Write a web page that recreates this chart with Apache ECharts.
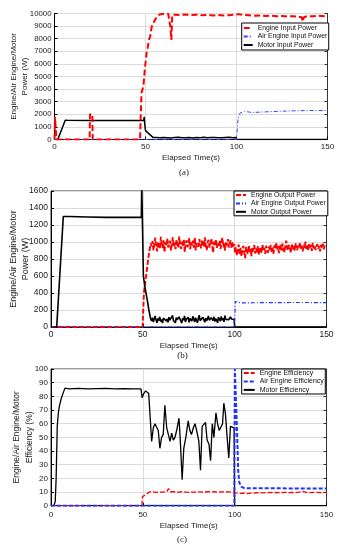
<!DOCTYPE html>
<html><head><meta charset="utf-8">
<script src="https://cdn.jsdelivr.net/npm/echarts@6/dist/echarts.min.js"></script>
<style>html,body{margin:0;padding:0;background:#fff}#c{width:341px;height:550px}</style>
</head><body><div id="c"></div>
<script>
// ---------- (a) input power ----------
const engInT = [0,0.3,0.7,1.0,19.3,19.5,20.8,21.0,47.0,47.3,47.8,48.3,48.8,49.3,49.7,50.2,50.6,51.2,51.9,52.6,53.4,54.0,54.7,55.4,56.2,57.5,59.0,61.0,62.5,63.2,63.7,64.2,64.7,66,69,72,75,78,81,84,87,90,93,96,99,101,104,107,110,113,116,119,122,125,128,131,134,135.8,136.4,137,139,142,145,148,150];
const engInV = [0,1800,1800,0,0,2000,2000,0,0,1500,3700,3600,4200,5000,5700,6300,6900,7300,7900,8200,8950,9000,9350,9500,9750,9900,9960,10000,9980,9950,8900,7900,9900,9900,9870,9920,9880,9900,9860,9890,9850,9880,9840,9870,9900,9950,9880,9860,9830,9850,9800,9820,9780,9800,9760,9790,9750,9700,9350,9700,9800,9780,9820,9790,9800];
const airInT = [0,100,100.4,100.8,101.3,102,103,104.5,106,108,110,114,120,126,132,140,150];
const airInV = [0,0,800,1500,1900,2100,2200,2250,2200,2150,2150,2180,2220,2250,2280,2300,2300];
const motInT = [0,1.8,5.9,7,20,35,49.0,49.3,49.6,50.0,52,54.2,56,58,60,62,64,66,68,70,72,74,76,78,80,82,84,86,88,90,92,94,96,98,99.7,100,150];
const motInV = [0,0,1530,1520,1510,1500,1500,1800,1200,700,450,150,150,130,160,140,120,150,170,130,140,160,120,150,140,170,130,150,160,140,130,150,170,140,160,0,0];

// ---------- (b) output power ----------
const engOutT = [0,49.9,50.2,50.6,51.7,53.0,54.2];
const engOutV = [0,0,200,400,590,810,985];
const engOutNoise1 = [950,1010,900,990,1050,960,890,1000,975,920,1060,980,930,1020,880,995,950,1040,935,985,1015,900,970,1055,945,990,915,1025,980,930,1065,970,920,1005,955,1030,885,985,1020,940,975,1045,915,995,960,1015,935,1050,900,985,1005,945,1035,970,925,1020,990,940,1055,955,905,995,1025,935,975,1040,950,875,1005,965,1030,930,990,955,1015,920,1000,1050,940,980,900,1005,960,1035,935,985,1020,925,995,950,975];
const engOutNoise2 = [870,935,840,915,970,860,930,830,905,955,880,810,940,900,860,960,875,920,835,935,895,965,865,925,880,950,850,940,905,870,970,895,930,860,955,910,875,945,900,965,885,935,860,960,915,995,905,950,870,940,965,900,980,920,880,955,1015,925,900,965,935,875,975,920,955,890,985,930,905,965,940,995,915,955,890,970,930,1005,920,960,900,975,935,965,895,990,925,960,905,950,975,920,955,890,965,930,980,915,955,935,950];
const airOutT = [0,100,100.3,101,103,106,110,120,130,140,150];
const airOutV = [0,0,300,290,285,283,285,287,288,288,287];
const motOutT = [0,3.1,6.7,10,20,30,40,49.2,49.4,49.9,50.3,51.3,52.4,53.3,54.2];
const motOutV = [0,0,1300,1300,1295,1290,1290,1290,1700,1700,600,450,320,200,100];
const motOutNoise = [70,110,60,95,130,80,50,100,75,120,65,90,45,105,85,125,70,95,55,115,80,60,100,135,75,90,50,110,85,65,120,95,70,45,105,80,130,60,90,75,115,55,100,85,70,125,95,60,110,80,50,100,140,75,90,65,115,85,55,105,70,95,130,80,60,110,90,75,120,65,100,85,50,115,95,70,125,80,105,60,135,90,75,110,85,65,120,95,80,100,90];

// ---------- (c) efficiency ----------
const engEffT = [0,49.5,49.8,50.5,51.5,52.5,53.5,54.2];
const engEffV = [0,0,6.6,7.2,8.0,8.8,10.0,10.6];
const engEffNoise1 = [10.3,10.1,9.8,10.2,9.9,10.4,10.0,9.7,10.1,12.5,10.2,9.9,10.3,10.0,9.8,10.1,10.2,9.9,10.0,10.3,9.8,10.1,9.9,10.2,10.0,9.7,10.1,10.3,9.9,10.0,10.2,9.8,10.1,9.9,10.3,10.0,9.8,10.2,10.1,9.9,10.0,10.3,10.1,10.4,10.2];
const engEffNoise2 = [9.4,9.0,9.1,8.9,9.2,9.3,9.5,9.4,9.6,9.5,9.7,9.6,9.5,9.8,9.6,9.7,9.6,9.9,10.4,9.7,9.6,9.8,9.7,9.6,9.7];
const airEffT = [0,99.8,100.1,100.4,100.9,101.4,101.9,102.5,103.5,105,107,110,120,130,140,150];
const airEffV = [0,0,100,100,70,50,26,17,14,13,12.8,12.8,12.8,12.6,12.6,12.5];
const motEffT = [0,1.5,2.3,2.8,3.4,4.0,4.6,5.5,6.5,7.6,10,15,20,25,30,35,40,45,49.0,49.6,50.5,51.5,52.3,53.2,54.8,55.7,56.6,57.5,58.4,59.3,60.2,61.1,62.0,63.0,63.9,64.8,65.7,66.6,67.5,68.4,69.7,70.5,71.4,72.3,73.4,74.7,75.6,76.5,77.5,78.4,79.3,80.5,81.4,82.3,83.2,84.1,85.0,86.0,86.9,87.8,88.7,89.8,90.7,91.6,92.5,93.4,94.1,95.0,95.9,96.8,97.7,98.6,99.7,100,150];
const motEffV = [0,0,3,20,58,68,73,78,82,86,85.5,85.8,85.4,85.7,85.8,85.5,85.6,85.5,85.5,79,82,84,84,82,47,57,60,60.5,55,42,50,52,73.5,57,58,47,53,48,50,55,64,45,19,42,50,62,55,52,57,60,55,47,26,58,57,61,48,45,33,60,50,68,60,55,54,60,75,67,50,35,58,57,57,0,0];

const xTicks = [0,50,100,150];

function zip(t, v){ return t.map((x,i)=>[x, v[i]]); }
function seq(vals, t0, t1){ const st=(t1-t0)/(vals.length-1); return vals.map((v,i)=>[t0+st*i, v]); }

const engOutData = zip(engOutT, engOutV).concat(seq(engOutNoise1, 54.8, 99.8), seq(engOutNoise2, 100.2, 150));
const motOutData = zip(motOutT, motOutV).concat(seq(motOutNoise, 54.7, 99.7), [[100,0],[150,0]]);
const engEffData = zip(engEffT, engEffV).concat(seq(engEffNoise1, 55, 99), [[99.8,10.1],[100.2,9.4]], seq(engEffNoise2, 101, 149), [[150,9.7]]);

const FF = "'Liberation Sans', Arial, sans-serif";
const RED = '#ff0000', BLUE = '#2233ff', BLACK = '#000000';

function xAx(gi, fs, margin, gap){
  return {gridIndex:gi, type:'value', min:0, max:150, interval:50,
    axisLine:{show:true, onZero:false, lineStyle:{color:'#000', width:1}},
    axisTick:{show:true, inside:true, length:3, lineStyle:{color:'#000'}},
    axisLabel:{fontSize:fs, color:'#222', margin:margin, fontFamily:FF, formatter:v=>String(v)},
    splitLine:{show:true, lineStyle:{color:'#dcdcdc', width:1}},
    name:'Elapsed Time(s)', nameLocation:'middle', nameGap:gap, nameMoveOverlap:false,
    nameTextStyle:{fontSize:8, color:'#222', fontFamily:FF}};
}
function yAx(gi, max, iv, fs, name, nfs, lh, gap){
  return {gridIndex:gi, type:'value', min:0, max:max, interval:iv,
    axisLine:{show:true, onZero:false, lineStyle:{color:'#000', width:1}},
    axisTick:{show:true, inside:true, length:3, lineStyle:{color:'#000'}},
    axisLabel:{fontSize:fs, color:'#222', margin:3, fontFamily:FF, formatter:v=>String(v)},
    splitLine:{show:true, lineStyle:{color:'#dcdcdc', width:1}},
    name:name, nameLocation:'middle', nameGap:gap, nameMoveOverlap:false,
    nameTextStyle:{fontSize:nfs, lineHeight:lh, color:'#222', fontFamily:FF}};
}
function yRight(gi, max, iv){
  return {gridIndex:gi, type:'value', position:'right', min:0, max:max, interval:iv,
    axisLine:{show:true, onZero:false, lineStyle:{color:'#333', width:1}},
    axisTick:{show:true, inside:true, length:3, lineStyle:{color:'#333'}},
    axisLabel:{show:false}, splitLine:{show:false}};
}
function leg(left, top, iw, ih, gap, pad, fs, names){
  return {left:left, top:top, orient:'vertical', itemWidth:iw, itemHeight:ih, itemGap:gap, padding:pad,
    borderColor:'#000', borderWidth:1, backgroundColor:'#fff', selectedMode:false,
    itemStyle:{opacity:0},
    textStyle:{fontSize:fs, color:'#111', fontFamily:FF}, data:names};
}
function ln(name, xi, yi, data, color, width, type, z){
  return {name:name, type:'line', xAxisIndex:xi, yAxisIndex:yi, data:data, symbol:'none', showSymbol:false,
    animation:false, clip:true, z:z||2, itemStyle:{color:color},
    lineStyle:{color:color, width:width, type:type}};
}

const option = {
  animation:false,
  grid:[
    {left:54.5, top:13.5, width:273, height:126, show:true, borderColor:'#333', borderWidth:1, outerBoundsMode:'none'},
    {left:51, top:191, width:275.5, height:136, show:true, borderColor:'#333', borderWidth:1, outerBoundsMode:'none'},
    {left:51, top:369, width:275.5, height:136.7, show:true, borderColor:'#333', borderWidth:1, outerBoundsMode:'none'}
  ],
  xAxis:[ xAx(0, 8, 3, 14.5), xAx(1, 8.5, 3, 14.5), xAx(2, 8, 5, 16) ],
  yAxis:[
    yAx(0, 10000, 1000, 7.8, 'Engine/Air Engine/Motor\nPower (W)', 8, 11, 24),
    yAx(1, 1600, 200, 8.5, 'Engine/Air Engine/Motor\nPower (W)', 9, 11.7, 20),
    yAx(2, 100, 10, 8, 'Engine/Air Engine/Motor\nEfficiency (%)', 8.5, 12.6, 15.5),
    yRight(0, 10000, 1000), yRight(1, 1600, 200), yRight(2, 100, 10)
  ],
  legend:[
    leg(241.7, 23, 9, 8, 1.5, [1.5,1.5,1.5,1], 6.8, ['Engine Input Power','Air Engine Input Power','Motor Input Power']),
    leg(234, 191, 10, 7.6, 1.4, [0.5,2,0.5,1], 6.8, ['Engine Output Power','Air Engine Output Power','Motor Output Power']),
    leg(241.7, 369, 11, 8, 1.4, [0.6,1.5,0.6,1], 7, ['Engine Efficiency','Air Engine Efficiency','Motor Efficiency'])
  ],
  series:[
    ln('Motor Input Power', 0, 0, zip(motInT, motInV), BLACK, 1.5, 'solid', 2),
    ln('Air Engine Input Power', 0, 0, zip(airInT, airInV), '#3344ff', 1, [4,2,1,2], 3),
    ln('Engine Input Power', 0, 0, zip(engInT, engInV), RED, 2, [6,3], 4),
    ln('Motor Output Power', 1, 1, motOutData, BLACK, 1.6, 'solid', 3),
    ln('Air Engine Output Power', 1, 1, zip(airOutT, airOutV), BLUE, 1.2, [4,2,1,2], 3),
    ln('Engine Output Power', 1, 1, engOutData, RED, 1.9, [5,2], 2),
    ln('Motor Efficiency', 2, 2, zip(motEffT, motEffV), BLACK, 1.3, 'solid', 2),
    ln('Air Engine Efficiency', 2, 2, zip(airEffT, airEffV), BLUE, 2, [4,2], 4),
    ln('Engine Efficiency', 2, 2, engEffData, RED, 1.3, [5,2], 3)
  ],
  graphic:[
    {type:'text', x:184, y:173, style:{text:'(a)', fontSize:9, fontFamily:"'Liberation Serif', 'Times New Roman', serif", fill:'#222', textAlign:'center', textVerticalAlign:'middle'}},
    {type:'text', x:182.5, y:356, style:{text:'(b)', fontSize:9, fontFamily:"'Liberation Serif', 'Times New Roman', serif", fill:'#222', textAlign:'center', textVerticalAlign:'middle'}},
    {type:'text', x:182, y:540, style:{text:'(c)', fontSize:9, fontFamily:"'Liberation Serif', 'Times New Roman', serif", fill:'#222', textAlign:'center', textVerticalAlign:'middle'}}
  ]
};
const chart = echarts.init(document.getElementById('c'), null, {renderer:'canvas'});
chart.setOption(option);
</script></body></html>
